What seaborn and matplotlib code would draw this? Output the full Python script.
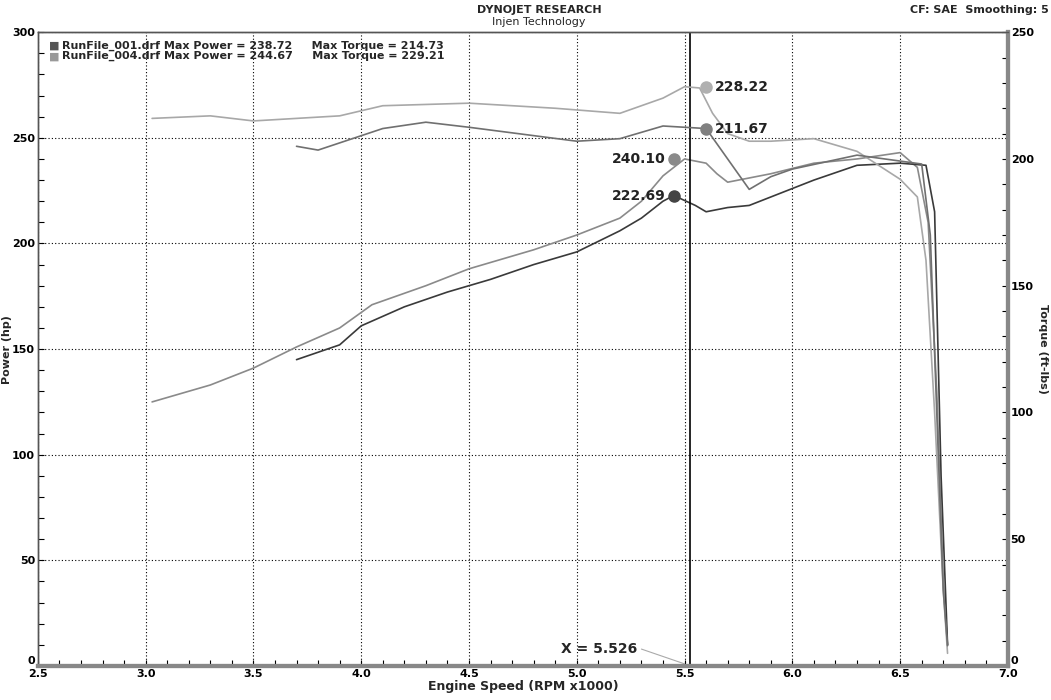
import matplotlib
matplotlib.use("Agg")
import matplotlib.pyplot as plt
import seaborn as sns
import pandas as pd

sns.set_theme(style="white")
plt.rcParams['font.family'] = ['DejaVu Sans']

rpm_p004 = [3.03,3.3,3.5,3.7,3.9,4.05,4.3,4.5,4.8,5.0,5.2,5.3,5.4,5.5,5.6,5.65,5.7,5.8,5.9,6.1,6.3,6.5,6.58,6.63,6.67,6.7,6.72]
hp_p004 = [125,133,141,151,160,171,180,188,197,204,212,220,232,240,238,233,229,231,233,238,240,243,236,210,130,40,10]
rpm_p001 = [3.7,3.9,4.0,4.2,4.4,4.6,4.8,5.0,5.2,5.3,5.4,5.45,5.55,5.6,5.7,5.8,5.95,6.1,6.3,6.5,6.62,6.66,6.69,6.72]
hp_p001 = [145,152,161,170,177,183,190,196,206,212,220,222.7,218,215,217,218,224,230,237,238,237,215,90,10]
rpm_t004 = [3.03,3.3,3.5,3.7,3.9,4.1,4.5,4.9,5.2,5.4,5.5,5.57,5.63,5.7,5.8,5.9,6.1,6.3,6.5,6.58,6.62,6.66,6.7,6.72]
tq_t004 = [216,217,215,216,217,221,222,220,218,224,228.5,228,218,210,207,207,208,203,192,185,160,100,30,5]
rpm_t001 = [3.7,3.8,4.1,4.3,4.5,5.0,5.2,5.4,5.6,5.7,5.8,5.9,6.0,6.3,6.6,6.64,6.67,6.7,6.72]
tq_t001 = [205,203.5,212,214.5,212.5,207,208,213,212,200,188,193,196,201.5,198,170,100,30,8]

fig = plt.figure(figsize=(10.51, 7.0), dpi=100)
ax = fig.add_axes([0.036, 0.0486, 0.923, 0.9054])
ax2 = ax.twinx()

sns.lineplot(x=rpm_p004, y=hp_p004, ax=ax, color="#8a8a8a", lw=1.2)
sns.lineplot(x=rpm_p001, y=hp_p001, ax=ax, color="#3a3a3a", lw=1.2)
sns.lineplot(x=rpm_t004, y=tq_t004, ax=ax2, color="#a8a8a8", lw=1.2)
sns.lineplot(x=rpm_t001, y=tq_t001, ax=ax2, color="#707070", lw=1.2)

ax.plot([5.45], [240.10], 'o', color="#8a8a8a", ms=8)
ax.plot([5.45], [222.69], 'o', color="#444444", ms=8)
ax2.plot([5.6], [228.22], 'o', color="#b0b0b0", ms=8)
ax2.plot([5.6], [211.67], 'o', color="#808080", ms=8)
tk = dict(fontsize=10, fontweight='bold', color='#222222')
ax.text(5.41, 240.10, "240.10", ha='right', va='center', **tk)
ax.text(5.41, 222.69, "222.69", ha='right', va='center', **tk)
ax2.text(5.64, 228.22, "228.22", ha='left', va='center', **tk)
ax2.text(5.64, 211.67, "211.67", ha='left', va='center', **tk)

ax.axvline(5.526, color='black', lw=1.2)
ax.plot([5.3, 5.5], [8, 1], color='#aaaaaa', lw=0.8)
ax.text(5.28, 6, "X = 5.526", ha='right', fontsize=10, fontweight='bold')

ax.set_xlim(2.5, 7.0)
ax.set_ylim(0, 300)
ax2.set_ylim(0, 250)
ax.set_xticks([2.5,3.0,3.5,4.0,4.5,5.0,5.5,6.0,6.5,7.0])
ax.set_xticklabels(["2.5","3.0","3.5","4.0","4.5","5.0","5.5","6.0","6.5","7.0"])
ax.set_xticks([2.5+0.1*i for i in range(46)], minor=True)
ax.set_yticks([0,50,100,150,200,250,300])
ax2.set_yticks([0,50,100,150,200,250])
ax2.set_yticks(list(range(0,251,10)), minor=True)
ax.set_yticks(list(range(0,301,10)), minor=True)
for a in (ax, ax2):
    a.tick_params(which='both', direction='in', length=4, labelsize=8, width=0.8, colors='black', pad=2)
    for lbl in a.get_xticklabels() + a.get_yticklabels():
        lbl.set_fontweight('bold')
    a.get_yticklabels()[0].set_va('bottom')
ax.tick_params(axis='x', which='both', bottom=True)
ax.tick_params(axis='y', which='both', left=True)
ax2.tick_params(axis='y', which='both', right=True)
ax.grid(True, which='major', ls=(0, (1, 2)), color='black', lw=0.8)
ax2.grid(False)
for a in (ax, ax2):
    for s in a.spines.values():
        s.set_color('#555555'); s.set_linewidth(1)
for a in (ax, ax2):
    a.spines['bottom'].set_linewidth(3); a.spines['right'].set_linewidth(3)
    a.spines['right'].set_color('#888888'); a.spines['bottom'].set_color('#888888')

ax.set_xlabel("Engine Speed (RPM x1000)", fontsize=9, fontweight='bold', labelpad=1)
ax.set_ylabel("Power (hp)", fontsize=8, fontweight='bold', labelpad=0)
ax2.set_ylabel("Torque (ft-lbs)", fontsize=8, fontweight='bold', rotation=270, labelpad=10)

fig.text(0.513, 0.986, "DYNOJET RESEARCH", ha='center', va='center', fontsize=8, fontweight='bold')
fig.text(0.513, 0.968, "Injen Technology", ha='center', va='center', fontsize=8)
fig.text(0.998, 0.986, "CF: SAE  Smoothing: 5", ha='right', va='center', fontsize=8, fontweight='bold')

lg = dict(fontsize=8, fontweight='bold', transform=ax.transAxes, va='center')
ax.text(0.012, 0.979, "\u25a0", color="#555555", **lg)
ax.text(0.025, 0.979, "RunFile_001.drf Max Power = 238.72     Max Torque = 214.73", **lg)
ax.text(0.012, 0.962, "\u25a0", color="#999999", **lg)
ax.text(0.025, 0.962, "RunFile_004.drf Max Power = 244.67     Max Torque = 229.21", **lg)

fig.savefig("out.png", dpi=100)
